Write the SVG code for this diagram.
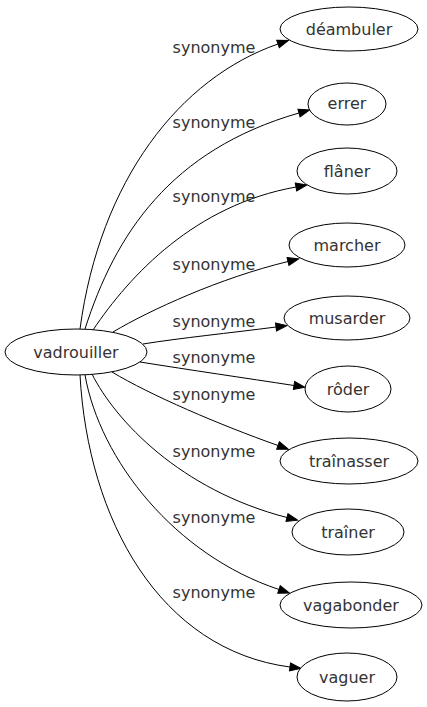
<svg xmlns="http://www.w3.org/2000/svg" width="427" height="707" viewBox="0 0 427 707">
<style>
text{font-family:"DejaVu Sans","Liberation Sans",sans-serif;font-size:16px;fill:#333;text-anchor:middle}
.n ellipse{fill:#fff;stroke:#000;stroke-width:1}
.e path{fill:none;stroke:#000;stroke-width:1}
</style>
<defs>
<marker id="ah" markerUnits="userSpaceOnUse" markerWidth="12" markerHeight="9" refX="0" refY="4" orient="auto" overflow="visible">
<path d="M0,0 L11,4 L0,8 z" fill="#000" stroke="#000" stroke-width="1"/>
</marker>
</defs>
<rect width="427" height="707" fill="#fff"/>
<g id="connectors" class="e">
<path marker-end="url(#ah)" d="M80,329 C100,180 180,78 278,44"/>
<path marker-end="url(#ah)" d="M85,329 C115,235 170,150 299,113"/>
<path marker-end="url(#ah)" d="M93,330 C130,275 195,205 296,187"/>
<path marker-end="url(#ah)" d="M113,332 C150,310 220,278 288,261.5"/>
<path marker-end="url(#ah)" d="M143,344 C180,338 230,333 276,327"/>
<path marker-end="url(#ah)" d="M140,362 C190,370 245,378 294,385.5"/>
<path marker-end="url(#ah)" d="M112,372 C150,395 220,425 278,445.5"/>
<path marker-end="url(#ah)" d="M92,374 C115,420 180,490 287,517.5"/>
<path marker-end="url(#ah)" d="M85,375 C100,460 175,555 279,589.5"/>
<path marker-end="url(#ah)" d="M80,375 C88,520 160,650 290,667"/>
<text x="214" y="53">synonyme</text>
<text x="214" y="128">synonyme</text>
<text x="214" y="202">synonyme</text>
<text x="214" y="270">synonyme</text>
<text x="214" y="327">synonyme</text>
<text x="214" y="363">synonyme</text>
<text x="214" y="400">synonyme</text>
<text x="214" y="457">synonyme</text>
<text x="214" y="523">synonyme</text>
<text x="214" y="598">synonyme</text>
</g>
<g id="vadrouiller" class="n"><ellipse cx="76" cy="352" rx="71" ry="23"/><text x="76" y="358">vadrouiller</text></g>
<g id="deambuler" class="n"><ellipse cx="349" cy="29" rx="69" ry="22"/><text x="349" y="35">déambuler</text></g>
<g id="errer" class="n"><ellipse cx="347" cy="104" rx="39" ry="21"/><text x="347" y="109">errer</text></g>
<g id="flaner" class="n"><ellipse cx="347" cy="171" rx="50" ry="23"/><text x="347" y="177">flâner</text></g>
<g id="marcher" class="n"><ellipse cx="347" cy="245" rx="58" ry="22"/><text x="347" y="251">marcher</text></g>
<g id="musarder" class="n"><ellipse cx="347" cy="318" rx="63" ry="22"/><text x="347" y="324">musarder</text></g>
<g id="roder" class="n"><ellipse cx="348" cy="389" rx="43" ry="23"/><text x="348" y="395">rôder</text></g>
<g id="trainasser" class="n"><ellipse cx="349" cy="461" rx="69" ry="23"/><text x="349" y="467">traînasser</text></g>
<g id="trainer" class="n"><ellipse cx="348" cy="532" rx="56" ry="23"/><text x="348" y="538">traîner</text></g>
<g id="vagabonder" class="n"><ellipse cx="351" cy="605" rx="71" ry="23"/><text x="351" y="611">vagabonder</text></g>
<g id="vaguer" class="n"><ellipse cx="347" cy="677" rx="50" ry="24"/><text x="347" y="683">vaguer</text></g>
</svg>
